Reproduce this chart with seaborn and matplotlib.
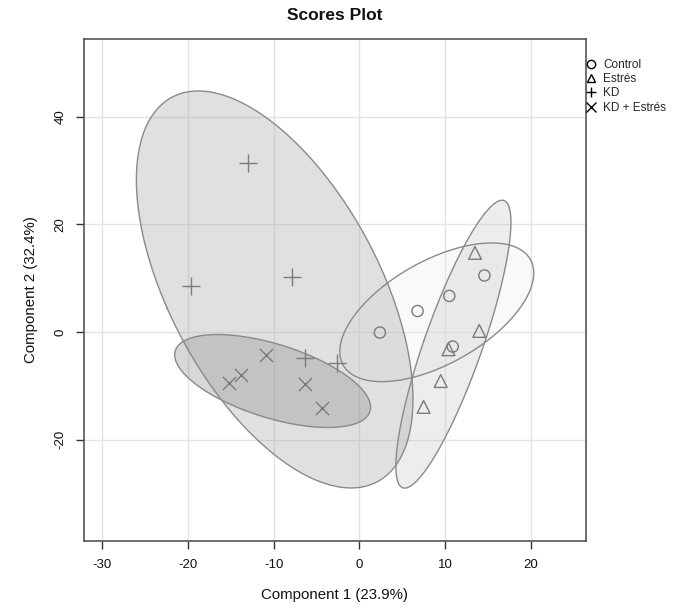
# Scores plot (PLS-DA style) with 95% confidence ellipses per group

import numpy as np
import pandas as pd
import matplotlib
matplotlib.use("Agg")
import matplotlib.pyplot as plt
from matplotlib.lines import Line2D
import seaborn as sns

# Data
groups = ["Control", "Estrés", "KD", "KD + Estrés"]
control_x = [2.4, 6.8, 10.5, 14.6, 10.9]
control_y = [-0.1, 3.9, 6.7, 10.5, -2.7]
estres_x = [13.5, 14.0, 10.4, 9.5, 7.5]
estres_y = [14.7, 0.2, -3.2, -9.1, -13.9]
kd_x = [-13.0, -19.6, -7.9, -6.3, -2.6]
kd_y = [31.4, 8.5, 10.2, -4.9, -5.7]
kdest_x = [-10.9, -13.8, -15.2, -6.3, -4.4]
kdest_y = [-4.3, -8.0, -9.4, -9.7, -14.1]

x_ticks = [-30, -20, -10, 0, 10, 20]
y_ticks = [-20, 0, 20, 40]

df = pd.DataFrame({
    "x": control_x + estres_x + kd_x + kdest_x,
    "y": control_y + estres_y + kd_y + kdest_y,
    "group": sum([[g] * 5 for g in groups], []),
})

# Styling
markers = {"Control": "o", "Estrés": "^", "KD": "+", "KD + Estrés": "x"}
sizes = {"Control": 65, "Estrés": 85, "KD": 150, "KD + Estrés": 90}
fills = {"Control": "#f0f0f0", "Estrés": "#cccccc", "KD": "#a7a7a7", "KD + Estrés": "#8e8e8e"}
point_col = "#7a7a7a"

sns.set_style("white")
plt.rcParams["font.family"] = ["Liberation Sans", "DejaVu Sans"]

fig = plt.figure(figsize=(6.92, 6.10), dpi=100)
ax = fig.add_axes([84.3 / 692, 1 - 541 / 610, (585.5 - 84.3) / 692, (541 - 39) / 610])

# Ellipses (95%, chi-square with 2 d.o.f.) computed from each group's points
t = np.sqrt(-2 * np.log(0.05))
theta = np.linspace(0, 2 * np.pi, 200)
for g in ["Control", "Estrés", "KD", "KD + Estrés"]:
    sub = df[df["group"] == g]
    pts = sub[["x", "y"]].to_numpy()
    mu = pts.mean(axis=0)
    vals, vecs = np.linalg.eigh(np.cov(pts.T))
    circ = np.vstack([np.cos(theta), np.sin(theta)])
    ell = (vecs @ np.diag(np.sqrt(vals)) @ circ) * t
    ax.fill(mu[0] + ell[0], mu[1] + ell[1], facecolor=fills[g], alpha=0.35,
            edgecolor="none", zorder=2)
    ax.plot(mu[0] + ell[0], mu[1] + ell[1], color="#8a8a8a", lw=1.0, zorder=3)

# Points
for g in groups:
    sub = df[df["group"] == g]
    if markers[g] in ("o", "^"):
        sns.scatterplot(data=sub, x="x", y="y", marker=markers[g], s=sizes[g],
                        facecolors="none", edgecolors=point_col, linewidths=1.0,
                        ax=ax, zorder=4, legend=False)
    else:
        sns.scatterplot(data=sub, x="x", y="y", marker=markers[g], s=sizes[g],
                        color=point_col, linewidths=1.0, ax=ax, zorder=4, legend=False)

# Axes
ax.set_xlim(-32.1, 26.4)
ax.set_ylim(-38.8, 54.4)
ax.set_xticks(x_ticks)
ax.set_yticks(y_ticks)
ax.set_xticklabels([str(v) for v in x_ticks])
ax.set_yticklabels([str(v) for v in y_ticks], rotation=90, va="center")
ax.grid(True, color="#e3e3e3", lw=1.0, zorder=0)
ax.set_axisbelow(True)
for sp in ax.spines.values():
    sp.set_color("#555555")
    sp.set_linewidth(1.2)
ax.tick_params(direction="out", length=6, width=1.0, color="#333333",
               labelsize=9.5, labelcolor="#111111", pad=7, bottom=True, left=True)
ax.set_xlabel("Component 1 (23.9%)", fontsize=10.8, labelpad=12, color="#111111")
ax.set_ylabel("Component 2 (32.4%)", fontsize=10.8, labelpad=12, color="#111111")
ax.set_title("Scores Plot", fontsize=12.5, fontweight="bold", pad=14, color="#111111")

# Legend outside on the right
handles = []
for g in groups:
    open_m = markers[g] in ("o", "^")
    handles.append(Line2D([], [], ls="none", marker=markers[g], color="black",
                          markerfacecolor="none" if open_m else "black",
                          markersize=6 if open_m else 7, markeredgewidth=1.0))
fig.legend(handles, groups, loc="upper left", bbox_to_anchor=(582 / 692, 1 - 54 / 610),
           frameon=False, fontsize=8.5, handlelength=0.8, handletextpad=0.6,
           labelspacing=0.2, borderaxespad=0)

fig.savefig("out.png", dpi=100)
